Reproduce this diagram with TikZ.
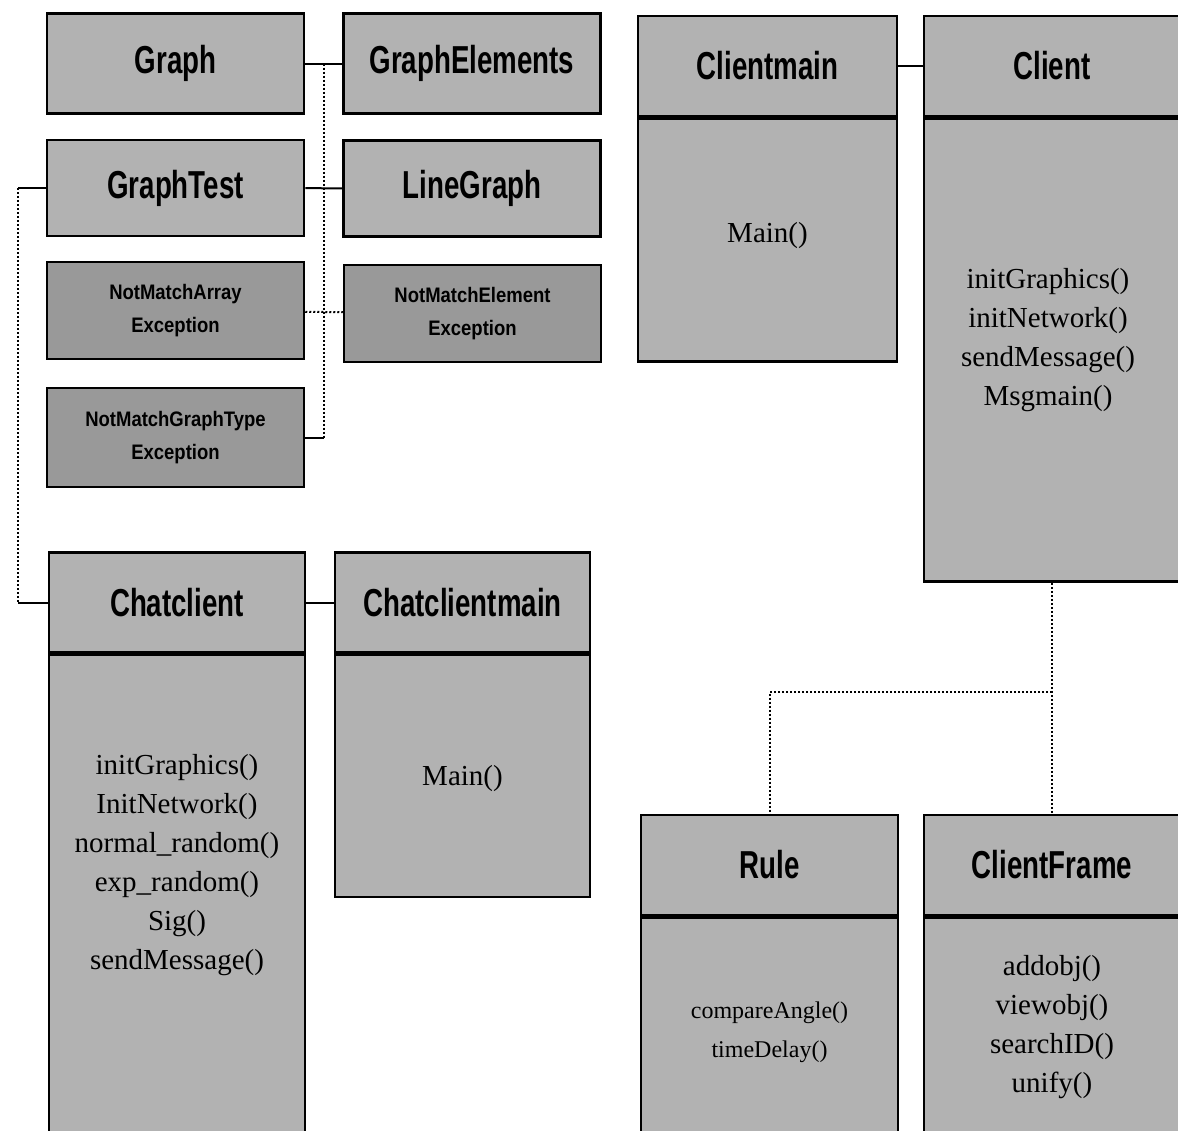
\documentclass[tikz,border=0pt]{standalone}
\usepackage{fontspec}
\usepackage{tikz}
\usetikzlibrary{positioning}
\newfontfamily\headfont[FakeStretch=0.71]{Liberation Sans}
\newfontfamily\excfont[FakeStretch=0.88]{Liberation Sans}
\newfontfamily\opsfont{Liberation Serif}
\tikzstyle{classbox}=[rectangle,draw=black,line width=2.5pt,fill=black!30,inner sep=0pt]
\tikzstyle{namebox}=[classbox,minimum height=100pt,font=\headfont\bfseries\fontsize{39}{39}\selectfont]
\tikzstyle{errbox}=[classbox,fill=black!40,minimum width=257pt,minimum height=97pt,align=center,font=\excfont\bfseries\fontsize{21}{33}\selectfont]
\tikzstyle{ops}=[align=center,font=\opsfont\fontsize{29}{39}\selectfont]
\tikzstyle{link}=[draw,line width=2pt,-]
\tikzstyle{dep}=[draw,line width=2pt,dash pattern=on 2pt off 2pt]

\begin{document}
\begin{tikzpicture}[x=1pt,y=-1pt]
        \clip (0,0) rectangle (1178,1130);
        % graph package
        \node[namebox,minimum width=257pt] (graph) at (175.5,63.5) {Graph};
        \node[namebox,minimum width=257pt] (graphelements) at (472,63.5) {GraphElements};
        \node[namebox,minimum width=257pt,minimum height=96pt] (graphtest) at (175.5,188) {GraphTest};
        \node[namebox,minimum width=257pt,minimum height=96pt] (linegraph) at (472,188.5) {LineGraph};
        \node[errbox] (notmatcharray) at (175.5,310.5) {NotMatchArray\\Exception};
        \node[errbox] (notmatchelement) at (472.5,313.5) {NotMatchElement\\Exception};
        \node[errbox,minimum height=99pt] (notmatchgraphtype) at (175.5,437.5) {NotMatchGraphType\\Exception};
        % chat client
        \node[namebox,minimum width=256pt] (chathead) at (177,602.5) {Chatclient};
        \node[classbox,minimum width=256pt,minimum height=487pt,below=0pt of chathead] (chatbody) {};
        \node[ops] (chatops) at (177,865) {initGraphics()\\InitNetwork()\\normal\_random()\\exp\_random()\\Sig()\\sendMessage()};
        \node[namebox,minimum width=255pt] (chatmainhead) at (462.5,602.5) {Chatclientmain};
        \node[classbox,minimum width=255pt,minimum height=242pt,below=0pt of chatmainhead] (chatmainbody) {};
        \node[ops] (chatmainops) at (462.5,779) {Main()};
        % client
        \node[namebox,minimum width=259pt] (clientmainhead) at (767.5,66) {Clientmain};
        \node[classbox,minimum width=259pt,minimum height=243pt,below=0pt of clientmainhead] (clientmainbody) {};
        \node[ops] (clientmainops) at (767.5,236) {Main()};
        \node[namebox,minimum width=256pt] (clienthead) at (1052,66) {Client};
        \node[classbox,minimum width=256pt,minimum height=463pt,below=0pt of clienthead] (clientbody) {};
        \node[ops] (clientops) at (1048,340) {initGraphics()\\initNetwork()\\sendMessage()\\Msgmain()};
        \node[namebox,minimum width=257pt] (rulehead) at (769.5,865) {Rule};
        \node[classbox,minimum width=257pt,minimum height=225pt,below=0pt of rulehead] (rulebody) {};
        \node[ops,font=\opsfont\fontsize{24}{39}\selectfont] (ruleops) at (769.5,1032) {compareAngle()\\timeDelay()};
        \node[namebox,minimum width=256pt] (framehead) at (1052,865) {ClientFrame};
        \node[classbox,minimum width=256pt,minimum height=225pt,below=0pt of framehead] (framebody) {};
        \node[ops] (frameops) at (1052,1027) {addobj()\\viewobj()\\searchID()\\unify()};
        % connectors
        \coordinate (gtrunk) at (324,0);
        \coordinate (ltrunk) at (18,0);
        \coordinate (forkrow) at (0,692);
        \draw[link] (graph) to (graphelements);
        \draw[link] (graphtest) to (linegraph);
        \draw[dep] (notmatcharray) to (notmatchelement);
        \draw[dep] (gtrunk |- graph.east) to (gtrunk |- notmatchgraphtype.east);
        \draw[link] (notmatchgraphtype.east) to (gtrunk |- notmatchgraphtype.east);
        \draw[link] (graphtest.west) to (ltrunk |- graphtest.west);
        \draw[dep] (ltrunk |- graphtest.west) to (ltrunk |- chathead.west);
        \draw[link] (ltrunk |- chathead.west) to (chathead.west);
        \draw[link] (chathead) to (chatmainhead);
        \draw[link] (clientmainhead) to (clienthead);
        \draw[dep] (clientbody.south) to (clientbody.south |- framehead.north);
        \draw[dep] (clientbody.south |- forkrow) -| (rulehead.north);
      \end{tikzpicture}
\end{document}
